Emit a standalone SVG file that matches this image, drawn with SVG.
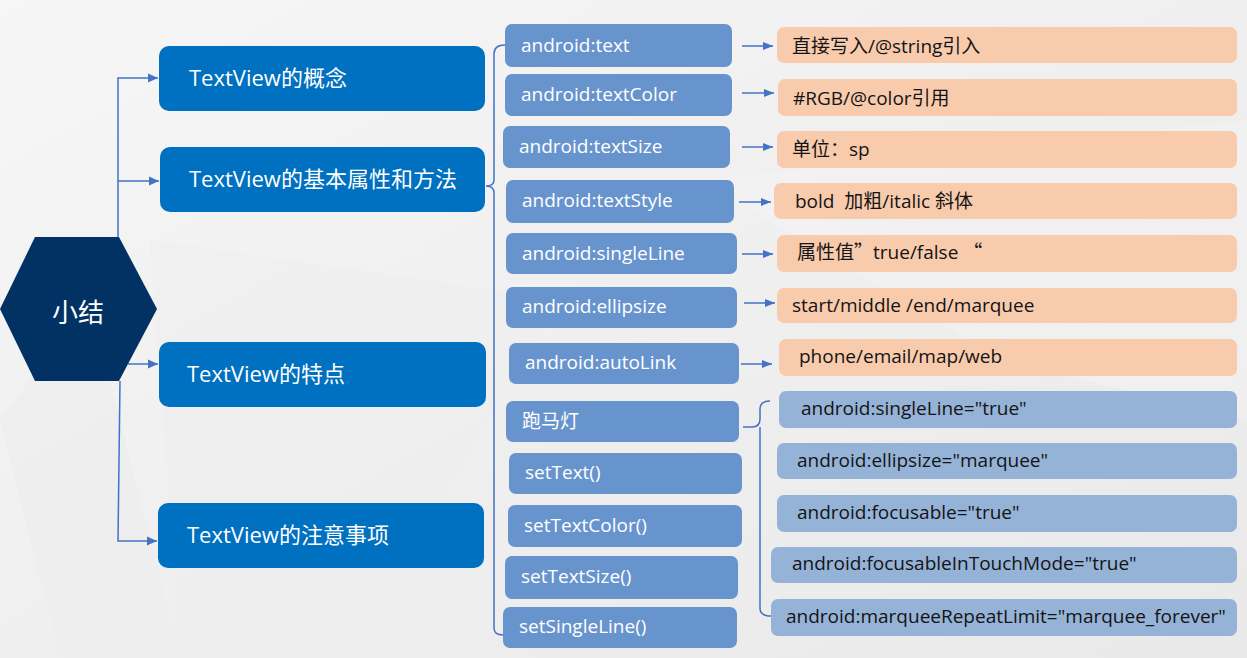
<svg xmlns="http://www.w3.org/2000/svg" width="1247" height="658" viewBox="0 0 1247 658">
<defs>
<linearGradient id="bg" x1="0" y1="0" x2="1" y2="1">
<stop offset="0" stop-color="#f6f6f6"/>
<stop offset="1" stop-color="#e9e9e9"/>
</linearGradient>
<marker id="arr" markerUnits="userSpaceOnUse" markerWidth="11" markerHeight="10" refX="10" refY="5" orient="auto">
<path d="M0,0.5 L10,5 L0,9.5 z" fill="#4472c4"/>
</marker>
<marker id="arrs" markerUnits="userSpaceOnUse" markerWidth="11" markerHeight="9" refX="10" refY="4.5" orient="auto">
<path d="M0,0.5 L10,4.5 L0,8.5 z" fill="#4472c4"/>
</marker>
</defs>
<style>
.main{fill:#0070c0}
.mt{fill:#ffffff;font-family:"Open Sans","Noto Sans CJK SC",sans-serif;font-size:22px}
.lb{fill:#6894ce}
.lt{fill:#ffffff;font-family:"Open Sans","Noto Sans CJK SC",sans-serif;font-size:19px}
.or{fill:#f8cbad}
.pb{fill:#95b3d7}
.dt{fill:#141414;font-family:"Open Sans","Noto Sans CJK SC",sans-serif;font-size:19px}
.cjk{font-family:"Noto Sans CJK SC",sans-serif}
.ln{fill:none;stroke:#4472c4;stroke-width:1.5}
</style>
<rect x="0" y="0" width="1247" height="658" fill="url(#bg)"/>
<polygon points="0,420 60,658 180,658 90,300" fill="#ececec" opacity="0.6"/>
<polygon points="150,240 560,300 350,658 180,658" fill="#eeeeee" opacity="0.5"/>
<polygon points="700,180 1247,120 1247,420 1000,360" fill="#f3f3f3" opacity="0.5"/>

<g id="connectors">
<path class="ln" d="M118,237 L118,78 L158,78" marker-end="url(#arr)"/>
<path class="ln" d="M118,181 L159,181" marker-end="url(#arr)"/>
<path class="ln" d="M128,364 L158,364" marker-end="url(#arr)"/>
<path class="ln" d="M120,381 L118,541 L157,541" marker-end="url(#arr)"/>
<path class="ln" d="M505,45 Q494,45 494,54 L494,180 Q494,186 486,186 Q494,186 494,193 L494,628 Q494,635 503,635"/>
<path class="ln" d="M743,427 L752,427 Q760,427 760,419 L760,409 Q760,401 770,401 M760,427 L760,608 Q760,616 771,616"/>
<path class="ln" d="M742,46 L773,46" marker-end="url(#arrs)"/>
<path class="ln" d="M742,93 L774,93" marker-end="url(#arrs)"/>
<path class="ln" d="M742,147 L773,147" marker-end="url(#arrs)"/>
<path class="ln" d="M739,202 L771,202" marker-end="url(#arrs)"/>
<path class="ln" d="M742,254 L773,254" marker-end="url(#arrs)"/>
<path class="ln" d="M744,303 L775,303" marker-end="url(#arrs)"/>
<path class="ln" d="M741,364 L772,364" marker-end="url(#arrs)"/>
</g>

<g id="summary">
<polygon points="0,309 35,237 119,237 157,309 119,381 35,381" fill="#023263"/>
<text x="78" y="322" text-anchor="middle" style="fill:#fff;font-family:'Noto Sans CJK SC',sans-serif;font-size:26px">小结</text>
</g>

<g id="concept"><rect class="main" x="159" y="46" width="326" height="65" rx="10"/><text class="mt" x="189" y="86">TextView的概念</text></g>
<g id="attrs"><rect class="main" x="160" y="147" width="325" height="65" rx="10"/><text class="mt" x="189" y="187">TextView的基本属性和方法</text></g>
<g id="features"><rect class="main" x="159" y="342" width="327" height="65" rx="10"/><text class="mt" x="187" y="382">TextView的特点</text></g>
<g id="notes"><rect class="main" x="158" y="503" width="326" height="65" rx="10"/><text class="mt" x="187" y="543">TextView的注意事项</text></g>

<g id="a-text"><rect class="lb" x="505" y="24" width="227" height="43" rx="7"/><text class="lt" x="521" y="52">android:text</text></g>
<g id="a-textColor"><rect class="lb" x="505" y="74" width="227" height="42" rx="7"/><text class="lt" x="521" y="101">android:textColor</text></g>
<g id="a-textSize"><rect class="lb" x="503" y="126" width="227" height="42" rx="7"/><text class="lt" x="519" y="153">android:textSize</text></g>
<g id="a-textStyle"><rect class="lb" x="506" y="180" width="228" height="43" rx="7"/><text class="lt" x="522" y="207">android:textStyle</text></g>
<g id="a-singleLine"><rect class="lb" x="506" y="233" width="231" height="41" rx="7"/><text class="lt" x="522" y="260">android:singleLine</text></g>
<g id="a-ellipsize"><rect class="lb" x="506" y="287" width="231" height="41" rx="7"/><text class="lt" x="522" y="313">android:ellipsize</text></g>
<g id="a-autoLink"><rect class="lb" x="509" y="343" width="230" height="41" rx="7"/><text class="lt" x="525" y="369">android:autoLink</text></g>
<g id="marquee"><rect class="lb" x="506" y="401" width="233" height="41" rx="7"/><text class="lt" x="522" y="428">跑马灯</text></g>
<g id="m-setText"><rect class="lb" x="509" y="453" width="233" height="41" rx="7"/><text class="lt" x="525" y="479">setText()</text></g>
<g id="m-setTextColor"><rect class="lb" x="508" y="505" width="234" height="42" rx="7"/><text class="lt" x="524" y="532">setTextColor()</text></g>
<g id="m-setTextSize"><rect class="lb" x="505" y="556" width="233" height="43" rx="7"/><text class="lt" x="521" y="583">setTextSize()</text></g>
<g id="m-setSingleLine"><rect class="lb" x="503" y="607" width="234" height="41" rx="7"/><text class="lt" x="519" y="633">setSingleLine()</text></g>

<g id="v-text"><rect class="or" x="777" y="27" width="460" height="36" rx="7"/><text class="dt" x="792" y="53">直接写入/@string引入</text></g>
<g id="v-textColor"><rect class="or" x="778" y="79" width="459" height="37" rx="7"/><text class="dt" x="793" y="105">#RGB/@color引用</text></g>
<g id="v-textSize"><rect class="or" x="777" y="131" width="460" height="37" rx="7"/><text class="dt" x="792" y="156">单位：sp</text></g>
<g id="v-textStyle"><rect class="or" x="774" y="183" width="463" height="36" rx="7"/><text class="dt" x="795" y="208" xml:space="preserve">bold  加粗/italic 斜体</text></g>
<g id="v-singleLine"><rect class="or" x="777" y="235" width="460" height="37" rx="7"/><text class="dt" x="797" y="259" xml:space="preserve">属性值<tspan class="cjk">”</tspan>true/false <tspan class="cjk">“</tspan></text></g>
<g id="v-ellipsize"><rect class="or" x="777" y="288" width="460" height="35" rx="7"/><text class="dt" x="792" y="312">start/middle /end/marquee</text></g>
<g id="v-autoLink"><rect class="or" x="779" y="339" width="458" height="37" rx="7"/><text class="dt" x="799" y="363">phone/email/map/web</text></g>

<g id="mq-1"><rect class="pb" x="779" y="391" width="458" height="37" rx="7"/><text class="dt" x="801" y="415">android:singleLine="true"</text></g>
<g id="mq-2"><rect class="pb" x="777" y="443" width="460" height="36" rx="7"/><text class="dt" x="797" y="467">android:ellipsize="marquee"</text></g>
<g id="mq-3"><rect class="pb" x="777" y="495" width="460" height="37" rx="7"/><text class="dt" x="797" y="519">android:focusable="true"</text></g>
<g id="mq-4"><rect class="pb" x="771" y="547" width="466" height="36" rx="7"/><text class="dt" x="792" y="570">android:focusableInTouchMode="true"</text></g>
<g id="mq-5"><rect class="pb" x="771" y="599" width="466" height="37" rx="7"/><text class="dt" x="786" y="623">android:marqueeRepeatLimit="marquee_forever"</text></g>
</svg>
